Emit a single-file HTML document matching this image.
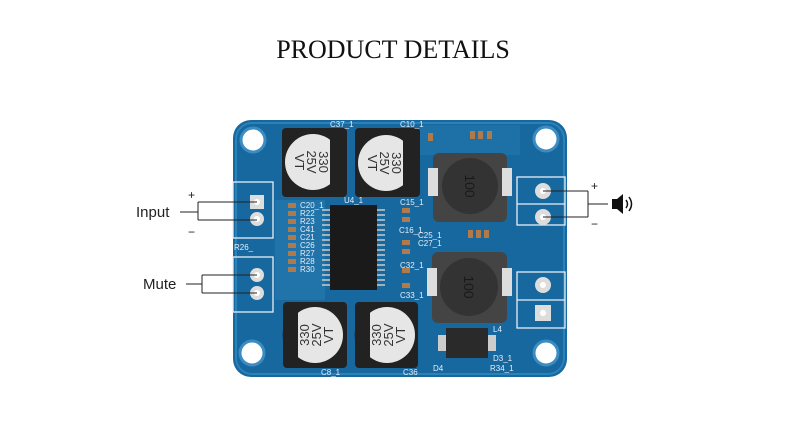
<!DOCTYPE html>
<html><head><style>
html,body{margin:0;padding:0;background:#fff;}
svg{display:block;}
</style></head><body>
<svg width="786" height="422" viewBox="0 0 786 422" xmlns="http://www.w3.org/2000/svg">
<rect width="786" height="422" fill="#fff"/>
<text x="393" y="58" text-anchor="middle" font-family="Liberation Serif, serif" font-size="26" fill="#111">PRODUCT DETAILS</text>

<!-- board -->
<rect x="233" y="120" width="334" height="257" rx="18" fill="#17689f"/>
<rect x="236" y="123" width="328" height="251" rx="16" fill="none" stroke="#2a82bb" stroke-width="2"/>
<g fill="#2a7fb5">
<rect x="275" y="200" width="50" height="100" opacity="0.5"/>
<rect x="420" y="125" width="100" height="30" opacity="0.4"/>
</g>
<!-- holes -->
<g fill="#fff" stroke="#3a8cc2" stroke-width="3">
<circle cx="253" cy="140" r="12"/><circle cx="546" cy="139" r="12"/>
<circle cx="252" cy="353" r="12"/><circle cx="546" cy="353" r="12"/>
</g>

<!-- capacitors -->
<g>
<rect x="282" y="128" width="65" height="69" rx="4" fill="#222"/>
<rect x="355" y="128" width="65" height="69" rx="4" fill="#222"/>
<rect x="283" y="302" width="64" height="66" rx="4" fill="#222"/>
<rect x="355" y="302" width="63" height="66" rx="4" fill="#222"/>
<circle cx="313" cy="162" r="28" fill="#e6e6e6"/>
<circle cx="386" cy="163" r="28" fill="#e6e6e6"/>
<circle cx="315" cy="335" r="28" fill="#e6e6e6"/>
<circle cx="387" cy="335" r="28" fill="#e6e6e6"/>
<path d="M330 137 A28 28 0 0 1 330 187 Z" fill="#222"/>
<path d="M403 138 A28 28 0 0 1 403 188 Z" fill="#222"/>
<path d="M298 360 A28 28 0 0 1 298 310 Z" fill="#222"/>
<path d="M370 360 A28 28 0 0 1 370 310 Z" fill="#222"/>
<g font-family="Liberation Sans, sans-serif" font-size="13" fill="#333" text-anchor="middle">
<text transform="translate(313,162) rotate(90)" y="-6">330</text>
<text transform="translate(313,162) rotate(90)" y="6">25V</text>
<text transform="translate(313,162) rotate(90)" y="18">VT</text>
<text transform="translate(386,163) rotate(90)" y="-6">330</text>
<text transform="translate(386,163) rotate(90)" y="6">25V</text>
<text transform="translate(386,163) rotate(90)" y="18">VT</text>
<text transform="translate(315,335) rotate(-90)" y="-6">330</text>
<text transform="translate(315,335) rotate(-90)" y="6">25V</text>
<text transform="translate(315,335) rotate(-90)" y="18">VT</text>
<text transform="translate(387,335) rotate(-90)" y="-6">330</text>
<text transform="translate(387,335) rotate(-90)" y="6">25V</text>
<text transform="translate(387,335) rotate(-90)" y="18">VT</text>
</g>
</g>

<!-- IC -->
<rect x="330" y="205" width="47" height="85" fill="#1a1a1a"/>
<g stroke="#ccc" stroke-width="1.5">
<path d="M322 210H330M322 215H330M322 220H330M322 225H330M322 230H330M322 235H330M322 240H330M322 245H330M322 250H330M322 255H330M322 260H330M322 265H330M322 270H330M322 275H330M322 280H330M322 285H330"/>
<path d="M377 210H385M377 215H385M377 220H385M377 225H385M377 230H385M377 235H385M377 240H385M377 245H385M377 250H385M377 255H385M377 260H385M377 265H385M377 270H385M377 275H385M377 280H385M377 285H385"/>
</g>
<!-- small SMD parts -->
<g fill="#b07a4a">
<rect x="288" y="203" width="8" height="5"/><rect x="288" y="211" width="8" height="5"/><rect x="288" y="219" width="8" height="5"/><rect x="288" y="227" width="8" height="5"/><rect x="288" y="235" width="8" height="5"/><rect x="288" y="243" width="8" height="5"/><rect x="288" y="251" width="8" height="5"/><rect x="288" y="259" width="8" height="5"/><rect x="288" y="267" width="8" height="5"/>
<rect x="402" y="208" width="8" height="5"/><rect x="402" y="217" width="8" height="5"/><rect x="402" y="240" width="8" height="5"/><rect x="402" y="249" width="8" height="5"/><rect x="402" y="268" width="8" height="5"/><rect x="402" y="283" width="8" height="5"/>
<rect x="428" y="133" width="5" height="8"/><rect x="470" y="131" width="5" height="8"/><rect x="478" y="131" width="5" height="8"/><rect x="487" y="131" width="5" height="8"/>
<rect x="468" y="230" width="5" height="8"/><rect x="476" y="230" width="5" height="8"/><rect x="484" y="230" width="5" height="8"/>
</g>
<g font-family="Liberation Sans, sans-serif" font-size="8" fill="#e8eef5">
<text x="300" y="208">C20_1</text><text x="300" y="216">R22</text><text x="300" y="224">R23</text><text x="300" y="232">C41</text><text x="300" y="240">C21</text><text x="300" y="248">C26</text><text x="300" y="256">R27</text><text x="300" y="264">R28</text><text x="300" y="272">R30</text>
<text x="344" y="203">U4_1</text><text x="330" y="127">C37_1</text><text x="400" y="127">C10_1</text>
<text x="400" y="205">C15_1</text><text x="399" y="233">C16_1</text><text x="418" y="238">C25_1</text><text x="418" y="246">C27_1</text>
<text x="400" y="268">C32_1</text><text x="400" y="298">C33_1</text><text x="234" y="250">R26_</text>
<text x="321" y="375">C8_1</text><text x="403" y="375">C36</text><text x="433" y="371">D4</text><text x="490" y="371">R34_1</text><text x="493" y="361">D3_1</text><text x="493" y="332">L4</text>
</g>

<!-- inductors -->
<rect x="433" y="153" width="74" height="69" rx="6" fill="#444"/>
<rect x="428" y="168" width="10" height="28" fill="#ddd"/><rect x="502" y="168" width="10" height="28" fill="#ddd"/>
<circle cx="470" cy="186" r="28" fill="#333"/>
<rect x="432" y="252" width="75" height="71" rx="6" fill="#444"/>
<rect x="427" y="268" width="10" height="28" fill="#ddd"/><rect x="502" y="268" width="10" height="28" fill="#ddd"/>
<circle cx="469" cy="287" r="29" fill="#333"/>
<g font-family="Liberation Sans, sans-serif" font-size="14" fill="#1a1a1a" text-anchor="middle">
<text transform="translate(470,186) rotate(90)" y="5">100</text>
<text transform="translate(469,287) rotate(90)" y="5">100</text>
</g>
<!-- diode -->
<rect x="446" y="328" width="42" height="30" fill="#2a2a2a"/>
<rect x="438" y="335" width="8" height="16" fill="#ccc"/><rect x="488" y="335" width="8" height="16" fill="#ccc"/>

<!-- right terminals -->
<g fill="none" stroke="#e8eef5" stroke-width="1.3">
<rect x="517" y="177" width="48" height="48"/><line x1="517" y1="204" x2="565" y2="204"/>
<rect x="517" y="272" width="48" height="56"/><line x1="517" y1="300" x2="565" y2="300"/>
<rect x="233" y="182" width="40" height="56"/>
<rect x="233" y="257" width="40" height="55"/>
</g>
<circle cx="543" cy="191" r="8" fill="#ddd"/><circle cx="543" cy="191" r="3" fill="#fff"/>
<circle cx="543" cy="217" r="8" fill="#ddd"/><circle cx="543" cy="217" r="3" fill="#fff"/>
<circle cx="543" cy="285" r="8" fill="#ddd"/><circle cx="543" cy="285" r="3" fill="#fff"/>
<rect x="535" y="305" width="16" height="16" fill="#ddd"/><circle cx="543" cy="313" r="3" fill="#fff"/>
<!-- left pads -->
<rect x="250" y="195" width="14" height="14" fill="#ddd"/><circle cx="257" cy="202" r="3" fill="#fff"/>
<circle cx="257" cy="219" r="7" fill="#ddd"/><circle cx="257" cy="219" r="3" fill="#fff"/>
<circle cx="257" cy="275" r="7" fill="#ddd"/><circle cx="257" cy="275" r="3" fill="#fff"/>
<circle cx="257" cy="293" r="7" fill="#ddd"/><circle cx="257" cy="293" r="3" fill="#fff"/>

<!-- annotations -->
<g stroke="#222" stroke-width="1" fill="none">
<path d="M180 212H198M198 202V220M198 202H257M198 220H257"/>
<path d="M186 284H202M202 275V293M202 275H257M202 293H257"/>
<path d="M543 191H588M543 217H588M588 191V217M588 204H608"/>
</g>
<g font-family="Liberation Sans, sans-serif" fill="#222">
<text x="136" y="217" font-size="15">Input</text>
<text x="143" y="289" font-size="15">Mute</text>
<text x="188" y="199" font-size="12">+</text>
<text x="188" y="236" font-size="12">−</text>
<text x="591" y="190" font-size="12">+</text>
<text x="591" y="228" font-size="12">−</text>
</g>
<!-- speaker icon -->
<path d="M612 199H617L623 194V214L617 209H612Z" fill="#111"/>
<path d="M626 200Q629 204 626 208M629 197Q634 204 629 211" fill="none" stroke="#111" stroke-width="1.5"/>
</svg>
</body></html>
